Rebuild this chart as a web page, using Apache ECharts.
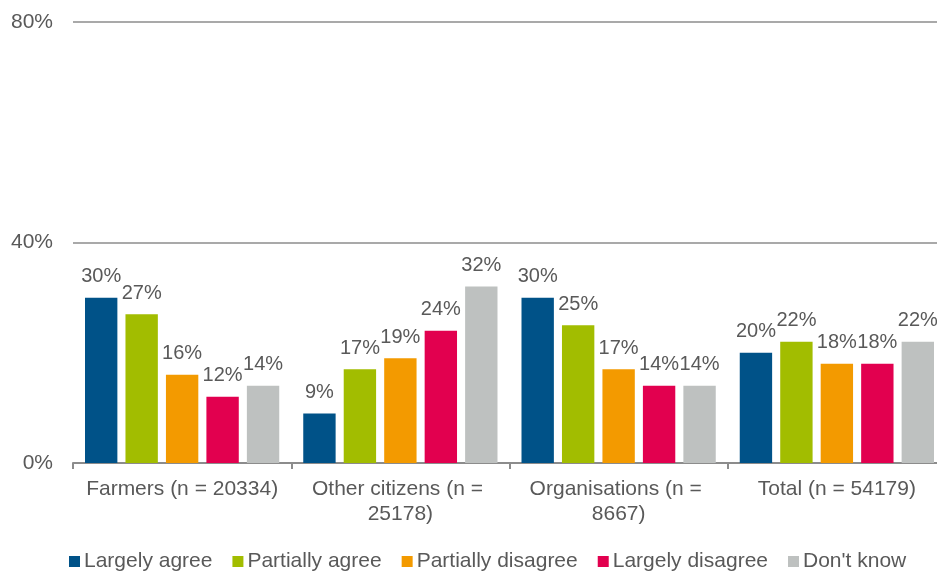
<!DOCTYPE html>
<html><head><meta charset="utf-8">
<script src="https://cdn.jsdelivr.net/npm/echarts@6/dist/echarts.min.js"></script>
<style>html,body{margin:0;padding:0;background:#fff}#c{width:937px;height:574px}</style>
</head><body><div id="c"></div>
<script>
const categories = ['Farmers (n = 20334)', 'Other citizens (n = 25178)', 'Organisations (n = 8667)', 'Total (n = 54179)'];
const seriesNames = ['Largely agree', 'Partially agree', 'Partially disagree', 'Largely disagree', "Don't know"];
const largelyAgree = [30, 9, 30, 20];
const partiallyAgree = [27, 17, 25, 22];
const partiallyDisagree = [16, 19, 17, 18];
const largelyDisagree = [12, 24, 14, 18];
const dontKnow = [14, 32, 14, 22];
const yTicks = [0, 40, 80];
const colors = ['#005288', '#A2BD00', '#F39A00', '#E2004F', '#BEC1C0'];

const values = [largelyAgree, partiallyAgree, partiallyDisagree, largelyDisagree, dontKnow];
const FONT = 'Liberation Sans, Arial, sans-serif';
const TXT = '#595959';

const chart = echarts.init(document.getElementById('c'), null, {renderer: 'canvas'});
chart.setOption({
  animation: false,
  color: colors,
  grid: {left: 73, top: 22, width: 873, bottom: 111, containLabel: false, outerBoundsMode: 'none'},
  legend: {
    left: 64, top: 546,
    itemWidth: 11, itemHeight: 11, itemGap: 20,
    icon: 'rect',
    textStyle: {fontFamily: FONT, fontSize: 21, color: TXT, padding: [0, 0, 0, -1]},
    data: seriesNames
  },
  xAxis: {
    type: 'category',
    data: categories,
    axisLine: {lineStyle: {color: '#8c8c8c', width: 2}},
    axisTick: {show: true, length: 6, lineStyle: {color: '#8c8c8c', width: 2}},
    axisLabel: {
      fontFamily: FONT, fontSize: 21, color: TXT, margin: 14, lineHeight: 25,
      width: 205, overflow: 'break', interval: 0
    }
  },
  yAxis: {
    type: 'value', min: yTicks[0], max: yTicks[yTicks.length - 1], interval: 40,
    axisLine: {show: false}, axisTick: {show: false},
    splitLine: {lineStyle: {color: '#8c8c8c', width: 1.5}},
    axisLabel: {fontFamily: FONT, fontSize: 21, color: TXT, margin: 20, formatter: v => v + '%'}
  },
  series: seriesNames.map((name, i) => ({
    name, type: 'bar', data: values[i],
    barGap: '25%', barCategoryGap: '11%',
    label: {
      show: true, position: 'top', distance: 11,
      fontFamily: FONT, fontSize: 20, color: TXT,
      formatter: p => Math.round(p.value) + '%'
    }
  }))
});
</script></body></html>
